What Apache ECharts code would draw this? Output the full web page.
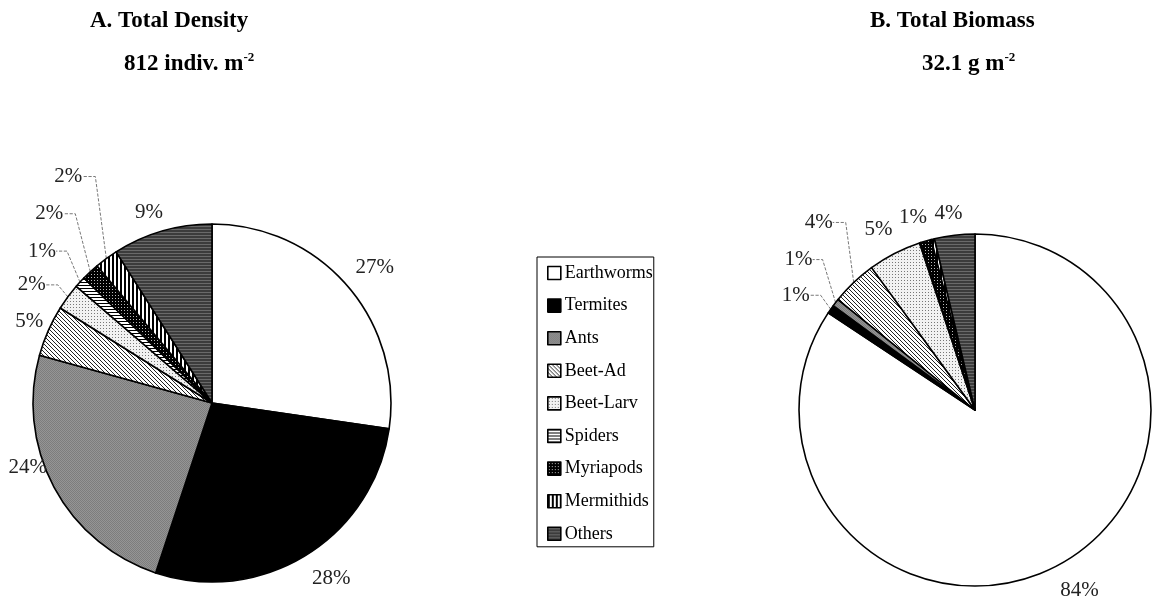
<!DOCTYPE html>
<html>
<head>
<meta charset="utf-8">
<title>Total Density / Total Biomass</title>
<script src="https://cdn.jsdelivr.net/npm/echarts@6/dist/echarts.min.js"></script>
<style>
  html, body { margin: 0; padding: 0; background: #fff; }
  #chart { width: 1152px; height: 598px; }
</style>
</head>
<body>
<div id="chart"></div>
<script>
// groups (same order in both pies, clockwise from 12 o'clock)
var groups = ['Earthworms', 'Termites', 'Ants', 'Beet-Ad', 'Beet-Larv', 'Spiders', 'Myriapods', 'Mermithids', 'Others'];
// A. share of total density (%)
var densityPct = [27.3, 27.8, 24.2, 4.6, 2.4, 1.0, 1.6, 2.1, 9.0];
// B. share of total biomass (%)
var biomassPct = [84.3, 0.8, 0.7, 4.2, 4.9, 0.1, 1.0, 0.3, 3.7];

// label placement, relative to the slice's outer edge point:
// [dx, dy, leader tail length (0 = no leader line)]
var nudgeA = [[8, -18, 0], [6, 23, 0], [-7, -20, 0], [-5, -9, 0], [-10, -12, 12],
              [-13, -31, 11], [-15, -58, 12], [-11, -82, 13], [1, -19, 0]];
var nudgeB = [[2, 25, 0], [-10, -14, 11], [-13, -43, 10], [-8, -60, 13], [-2, -24, 0],
              [0, 0, 0], [1, -24, 0], [0, 0, 0], [8, -22, 0]];

var serif = '"Liberation Serif", "DejaVu Serif", serif';

// small tiling fills, roughly the hatches of the printed figure
function pattern(size, draw) {
    var c = document.createElement('canvas');
    c.width = size;
    c.height = size;
    var ctx = c.getContext('2d');
    draw(ctx, size);
    return { image: c, repeat: 'repeat' };
}

var fills = {
    'Earthworms': '#ffffff',
    'Termites': '#000000',
    'Ants': pattern(2, function (ctx) {
        ctx.fillStyle = '#959595'; ctx.fillRect(0, 0, 2, 2);
        ctx.fillStyle = '#7d7d7d'; ctx.fillRect(0, 0, 1, 1); ctx.fillRect(1, 1, 1, 1);
    }),
    'Beet-Ad': pattern(4, function (ctx) {
        ctx.fillStyle = '#fff'; ctx.fillRect(0, 0, 4, 4);
        ctx.fillStyle = '#222';
        for (var i = 0; i < 4; i++) ctx.fillRect(i, i, 1, 1);
    }),
    'Beet-Larv': pattern(3, function (ctx) {
        ctx.fillStyle = '#f2f2f2'; ctx.fillRect(0, 0, 3, 3);
        ctx.fillStyle = '#777'; ctx.fillRect(1, 1, 1, 1);
    }),
    'Spiders': pattern(3, function (ctx) {
        ctx.fillStyle = '#fff'; ctx.fillRect(0, 0, 3, 3);
        ctx.fillStyle = '#000'; ctx.fillRect(0, 0, 3, 1);
    }),
    'Myriapods': pattern(3, function (ctx) {
        ctx.fillStyle = '#000'; ctx.fillRect(0, 0, 3, 3);
        ctx.fillStyle = '#bbb'; ctx.fillRect(1, 1, 1, 1);
    }),
    'Mermithids': pattern(4, function (ctx) {
        ctx.fillStyle = '#fff'; ctx.fillRect(0, 0, 4, 4);
        ctx.fillStyle = '#000'; ctx.fillRect(0, 0, 2, 4);
    }),
    'Others': pattern(3, function (ctx) {
        ctx.fillStyle = '#3c3c3c'; ctx.fillRect(0, 0, 3, 3);
        ctx.fillStyle = '#6a6a6a'; ctx.fillRect(0, 1, 3, 1);
    })
};

function buildData(values, nudge) {
    var total = 0;
    for (var i = 0; i < values.length; i++) total += values[i];
    var out = [];
    for (var j = 0; j < values.length; j++) {
        out.push({
            name: groups[j],
            value: values[j],
            itemStyle: { color: fills[groups[j]] },
            label: { show: values[j] / total >= 0.005 },
            labelLine: { lineStyle: { opacity: nudge[j][2] > 0 ? 1 : 0 } }
        });
    }
    return out;
}

// move each label from the edge point of its slice; leaders go up, then sideways
function labelPlacer(nudge) {
    return function (params) {
        var pts = params.labelLinePoints;
        if (!pts) return {};
        var n = nudge[params.dataIndex];
        var p0 = pts[0];
        var left = pts[2][0] < p0[0];
        var bend = [p0[0] + n[0], p0[1] + n[1]];
        var tail = left ? -n[2] : n[2];
        var end = [bend[0] + tail, bend[1]];
        return {
            x: end[0],
            y: end[1],
            align: left ? 'right' : 'left',
            verticalAlign: 'middle',
            labelLinePoints: [p0, bend, end]
        };
    };
}

function pieSeries(center, radius, values, nudge) {
    return {
        type: 'pie',
        center: center,
        radius: radius,
        startAngle: 90,
        clockwise: true,
        percentPrecision: 0,
        avoidLabelOverlap: false,
        animation: false,
        silent: true,
        itemStyle: { borderColor: '#000', borderWidth: 1.6 },
        label: {
            position: 'outside',
            formatter: '{d}%',
            color: '#222',
            fontFamily: serif,
            fontSize: 21,
            overflow: 'none'
        },
        labelLine: {
            show: true,
            length: 10,
            length2: 6,
            lineStyle: { color: '#555', width: 0.8, type: 'dashed' }
        },
        labelLayout: labelPlacer(nudge),
        data: buildData(values, nudge)
    };
}

var titleStyle = {
    fontFamily: serif,
    fontWeight: 'bold',
    fontSize: 23,
    color: '#000',
    lineHeight: 26,
    rich: {
        sup: { fontFamily: serif, fontWeight: 'bold', fontSize: 13, verticalAlign: 'top', lineHeight: 26, color: '#000' }
    }
};

var chart = echarts.init(document.getElementById('chart'));

var option = {
    backgroundColor: '#fff',
    title: [
        { text: 'A. Total Density', left: 85, top: 3, textStyle: titleStyle },
        { text: '812 indiv. m{sup|-2}', left: 119, top: 46, textStyle: titleStyle },
        { text: 'B. Total Biomass', left: 865, top: 3, textStyle: titleStyle },
        { text: '32.1 g m{sup|-2}', left: 917, top: 46, textStyle: titleStyle }
    ],
    legend: {
        orient: 'vertical',
        left: 537,
        top: 257,
        data: groups,
        selectedMode: false,
        icon: 'rect',
        itemWidth: 13,
        itemHeight: 13,
        itemGap: 12.6,
        padding: [6, 1, 3, 10],
        borderColor: '#000',
        borderWidth: 1,
        itemStyle: { borderColor: '#000', borderWidth: 1.6 },
        textStyle: { fontFamily: serif, fontSize: 18, lineHeight: 20, color: '#000', padding: [0, 0, 0, -1] }
    },
    series: [
        pieSeries([212, 403], 179, densityPct, nudgeA),
        pieSeries([975, 410], 176, biomassPct, nudgeB)
    ]
};

chart.setOption(option);
</script>
</body>
</html>
